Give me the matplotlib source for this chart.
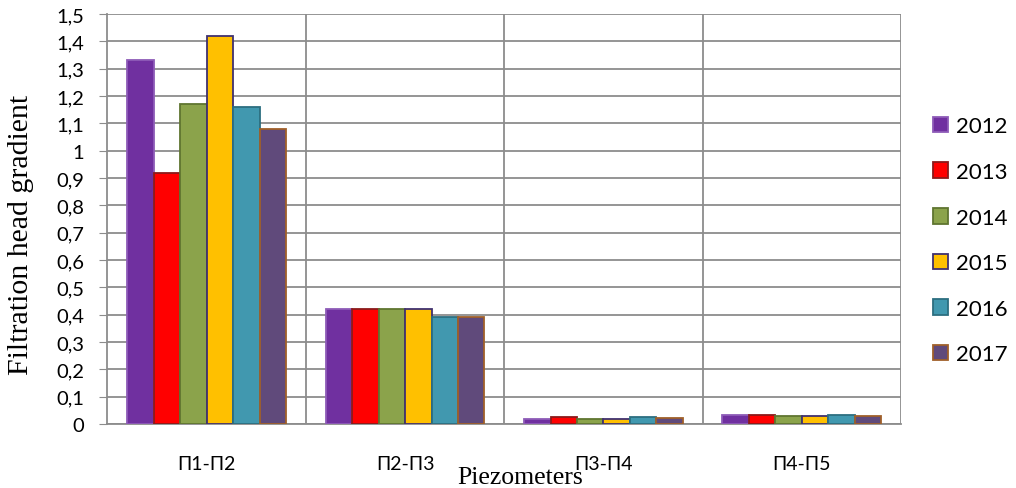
import matplotlib.pyplot as plt
import numpy as np
from matplotlib.ticker import FuncFormatter

categories = ["П1-П2", "П2-П3", "П3-П4", "П4-П5"]
years = ["2012", "2013", "2014", "2015", "2016", "2017"]
v2012 = [1.33, 0.42, 0.018, 0.033]
v2013 = [0.92, 0.42, 0.025, 0.033]
v2014 = [1.17, 0.42, 0.018, 0.030]
v2015 = [1.42, 0.42, 0.018, 0.028]
v2016 = [1.16, 0.39, 0.025, 0.033]
v2017 = [1.08, 0.39, 0.022, 0.030]
series = [v2012, v2013, v2014, v2015, v2016, v2017]

faces = ["#7030A0", "#FF0000", "#8BA34B", "#FFC000", "#4198AF", "#604A7B"]
edges = ["#8E5CB8", "#8B1A1A", "#5F7530", "#403070", "#2C6E80", "#A0602A"]

fig = plt.figure(figsize=(10.16, 4.89), dpi=100)
ax = fig.add_axes([0.1058, 0.1309, 0.781, 0.8384])

x = np.arange(len(categories))
w = 0.8 / len(years)
for i, (vals, y) in enumerate(zip(series, years)):
    ax.bar(x - 0.4 + w * (i + 0.5), vals, width=w, color=faces[i],
           edgecolor=edges[i], linewidth=1.3, label=y, zorder=3)

ax.set_xlim(-0.5, len(categories) - 0.5)
ax.set_ylim(0, 1.5)
ax.set_yticks(np.arange(0, 1.51, 0.1))
ax.yaxis.set_major_formatter(FuncFormatter(
    lambda v, p: ("%g" % round(v, 1)).replace(".", ",")))
ax.set_xticks(x)
ax.set_xticklabels(categories, fontsize=14, family="Lato")
for t in ax.get_yticklabels():
    t.set_family("Lato")
    t.set_fontsize(14.5)

# grid: horizontal at each tick, vertical at category boundaries
ax.yaxis.grid(True, color="#8C8C8C", linewidth=1.3, zorder=0)
for b in np.arange(0.5, len(categories) - 0.5, 1):
    ax.axvline(b, color="#8C8C8C", linewidth=1.3, zorder=0)

for s in ["top", "right"]:
    ax.spines[s].set_visible(False)
ax.spines["left"].set_color("#8C8C8C")
ax.spines["bottom"].set_color("#8C8C8C")
ax.spines["left"].set_linewidth(1.3)
ax.spines["bottom"].set_linewidth(1.3)
ax.axvline(len(categories) - 0.5, color="#8C8C8C", linewidth=1.3, zorder=0)
ax.tick_params(axis="y", length=6, color="#8C8C8C", pad=11)
ax.tick_params(axis="x", length=0, pad=22)

ax.set_ylabel("Filtration head gradient", family="Liberation Serif",
              fontsize=21.5)
ax.yaxis.set_label_coords(-0.092, 0.463)
fig.text(0.512, 0.0, "Piezometers", family="Liberation Serif",
         fontsize=18.5, ha="center", va="bottom")

leg = ax.legend(loc="center left", bbox_to_anchor=(1.015, 0.448), frameon=False,
                prop={"family": "Lato", "size": 16}, handlelength=0.7,
                handleheight=0.7, labelspacing=1.15, handletextpad=0.35)

plt.savefig("out.png", dpi=100)
